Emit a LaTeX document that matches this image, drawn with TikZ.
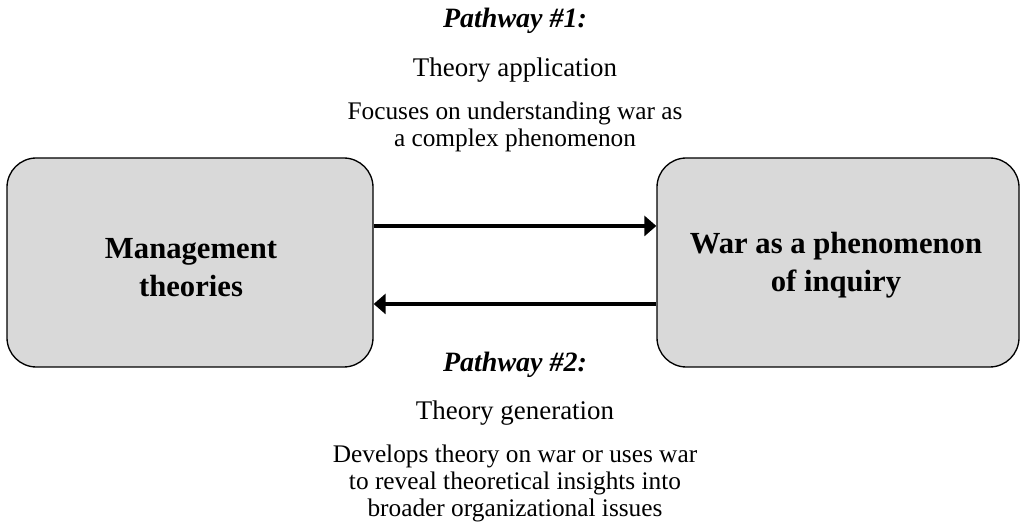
\documentclass[tikz,border=0pt]{standalone}
\usepackage{fontspec}
\setmainfont{Liberation Serif}
\usepackage{tikz}
\usetikzlibrary{arrows.meta, positioning}
\definecolor{boxgray}{RGB}{217,217,217}

\begin{document}
\begin{tikzpicture}[
    x=0.75pt, y=0.75pt,
    box/.style={draw=black, line width=1pt, fill=boxgray, rounded corners=22pt, minimum height=156.75pt},
    boxtext/.style={align=center, anchor=base, font=\fontsize{23}{29}\selectfont\bfseries},
    caption/.style={align=center, anchor=base, font=\fontsize{19}{20.6}\selectfont},
    subheading/.style={caption, font=\fontsize{20.2}{20.6}\selectfont},
    heading/.style={caption, font=\fontsize{21}{20.6}\selectfont\bfseries\itshape},
    arrow/.style={-{Triangle[length=9pt, width=15pt]}, line width=2.5pt}
]

    % keep the page the size of the reference
    \useasboundingbox (0,0) rectangle (1021,531);

    % The two boxes
    \node[box, minimum width=274.5pt] (mgmt) at (190,268.5) {};
    \node[box, minimum width=271.5pt] (war) at (838,268.5) {};
    \node[boxtext] (mgmttext) at (191,234) {Management\\theories};
    \node[boxtext] (wartext) at (836,239) {War as a phenomenon\\of inquiry};

    % Pathway #1 (above)
    \node[heading] (path1) at (515,503) {Pathway \#1:};
    \node[subheading] (apply) at (515,454) {Theory application};
    \node[caption] (applytext) at (515,384) {Focuses on understanding war as\\a complex phenomenon};

    % Pathway #2 (below)
    \node[heading] (path2) at (515,159) {Pathway \#2:};
    \node[subheading] (generate) at (515,111) {Theory generation};
    \node[caption] (generatetext) at (515,14) {Develops theory on war or uses war\\to reveal theoretical insights into\\broader organizational issues};

    % Arrows between the boxes
    \draw[arrow] ([yshift=27.4pt]mgmt.east) -- ([yshift=27.4pt]war.west);
    \draw[arrow] ([yshift=-31.1pt]war.west) -- ([yshift=-31.1pt]mgmt.east);

\end{tikzpicture}
\end{document}
